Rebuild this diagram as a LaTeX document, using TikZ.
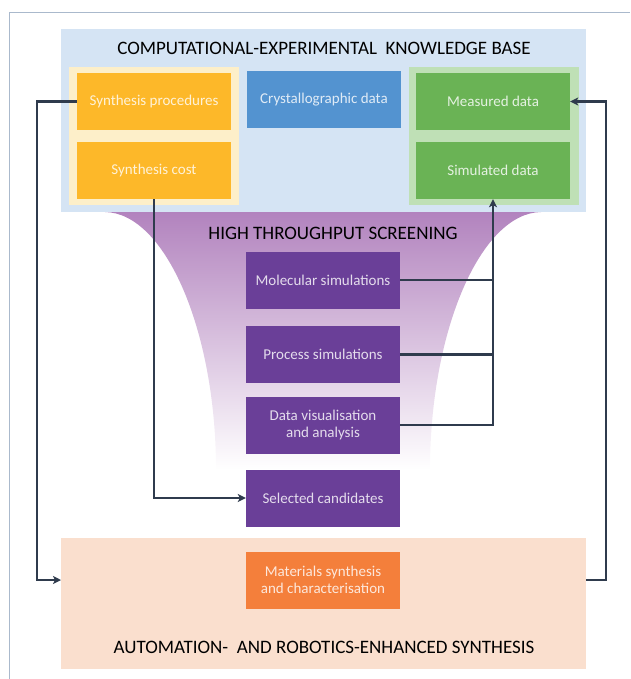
\documentclass[tikz,border=0pt]{standalone}
\usepackage{fontspec}
\setmainfont{Carlito}
\usetikzlibrary{arrows.meta}
\definecolor{kbblue}{HTML}{D5E4F4}
\definecolor{panelyellow}{HTML}{FDEFC9}
\definecolor{boxyellow}{HTML}{FDB829}
\definecolor{cryblue}{HTML}{5393D0}
\definecolor{panelgreen}{HTML}{BFE0B6}
\definecolor{boxgreen}{HTML}{6AB355}
\definecolor{funnelpurple}{HTML}{B283BE}
\definecolor{boxpurple}{HTML}{6A3F98}
\definecolor{peach}{HTML}{FADFCE}
\definecolor{boxorange}{HTML}{F47F3B}
\definecolor{linecol}{HTML}{2F3B4D}
\definecolor{framecol}{HTML}{AAB9CC}
\begin{document}
\begin{tikzpicture}[x=1pt, y=-1pt,
      every node/.style = {align=center, inner sep=0pt},
      box/.style = {rectangle, minimum width=154pt, minimum height=57pt,
        text=white, text opacity=0.82, font=\fontsize{15}{17}\selectfont},
      heading/.style = {text=black, font=\fontsize{19}{22}\selectfont},
      link/.style = {draw=linecol, line width=2.6pt},
      flow/.style = {link, -{Stealth[length=8pt, width=8pt, inset=2pt]}}]
      \useasboundingbox (0,0) rectangle (630,679);
      % frame
      \draw[framecol, line width=0.8pt] (9,679) -- (9,12.5) -- (630,12.5);
      % funnel
      \shade[top color=funnelpurple, middle color=funnelpurple!72, bottom color=white]
        (105,212) .. controls (165,213) and (216,330) .. (216,470)
        -- (430,470) .. controls (430,330) and (481,213) .. (541,212) -- cycle;
      % panels
      \fill[kbblue] (61,29) rectangle (586,212);
      \fill[panelyellow] (69,67) rectangle (239,205);
      \fill[panelgreen] (409,67) rectangle (579,205);
      \fill[peach] (61,538) rectangle (586,669);
      \node[heading] (kbtitle) at (324,48) {COMPUTATIONAL-EXPERIMENTAL\ \ KNOWLEDGE BASE};
      \node[heading] (htstitle) at (333,233) {HIGH THROUGHPUT SCREENING};
      \node[heading] (autotitle) at (324,647) {AUTOMATION-\ \ AND ROBOTICS-ENHANCED SYNTHESIS};
      \coordinate (peachW) at (61,580);
      \coordinate (peachE) at (586,580);
      % knowledge base
      \node[box, fill=boxyellow] (synproc) at (154,101.5) {Synthesis procedures};
      \node[box, fill=boxyellow] (syncost) at (154,170.5) {Synthesis cost};
      \node[box, fill=cryblue] (cryst) at (324,99.5) {Crystallographic data};
      \node[box, fill=boxgreen] (measured) at (493,101.5) {Measured data};
      \node[box, fill=boxgreen] (simulated) at (493,170.5) {Simulated data};
      % screening
      \node[box, fill=boxpurple] (molsim) at (323,280) {Molecular simulations};
      \node[box, fill=boxpurple] (procsim) at (323,354.5) {Process simulations};
      \node[box, fill=boxpurple] (datavis) at (323,425) {Data visualisation\\and analysis};
      \node[box, fill=boxpurple] (selected) at (323,498) {Selected candidates};
      % synthesis
      \node[box, fill=boxorange] (matsyn) at (323,580) {Materials synthesis\\and characterisation};
      % connectors
      \draw[flow] (synproc.west) -- (37,101.5) |- (peachW);
      \draw[flow] (peachE) -- (606,580) |- (measured.east);
      \draw[flow] (syncost.south) |- (selected.west);
      \draw[link] (molsim.east) -- (molsim.east -| simulated.south);
      \draw[link] (procsim.east) -- (procsim.east -| simulated.south);
      \draw[flow] (datavis.east) -| (simulated.south);
    \end{tikzpicture}
\end{document}
